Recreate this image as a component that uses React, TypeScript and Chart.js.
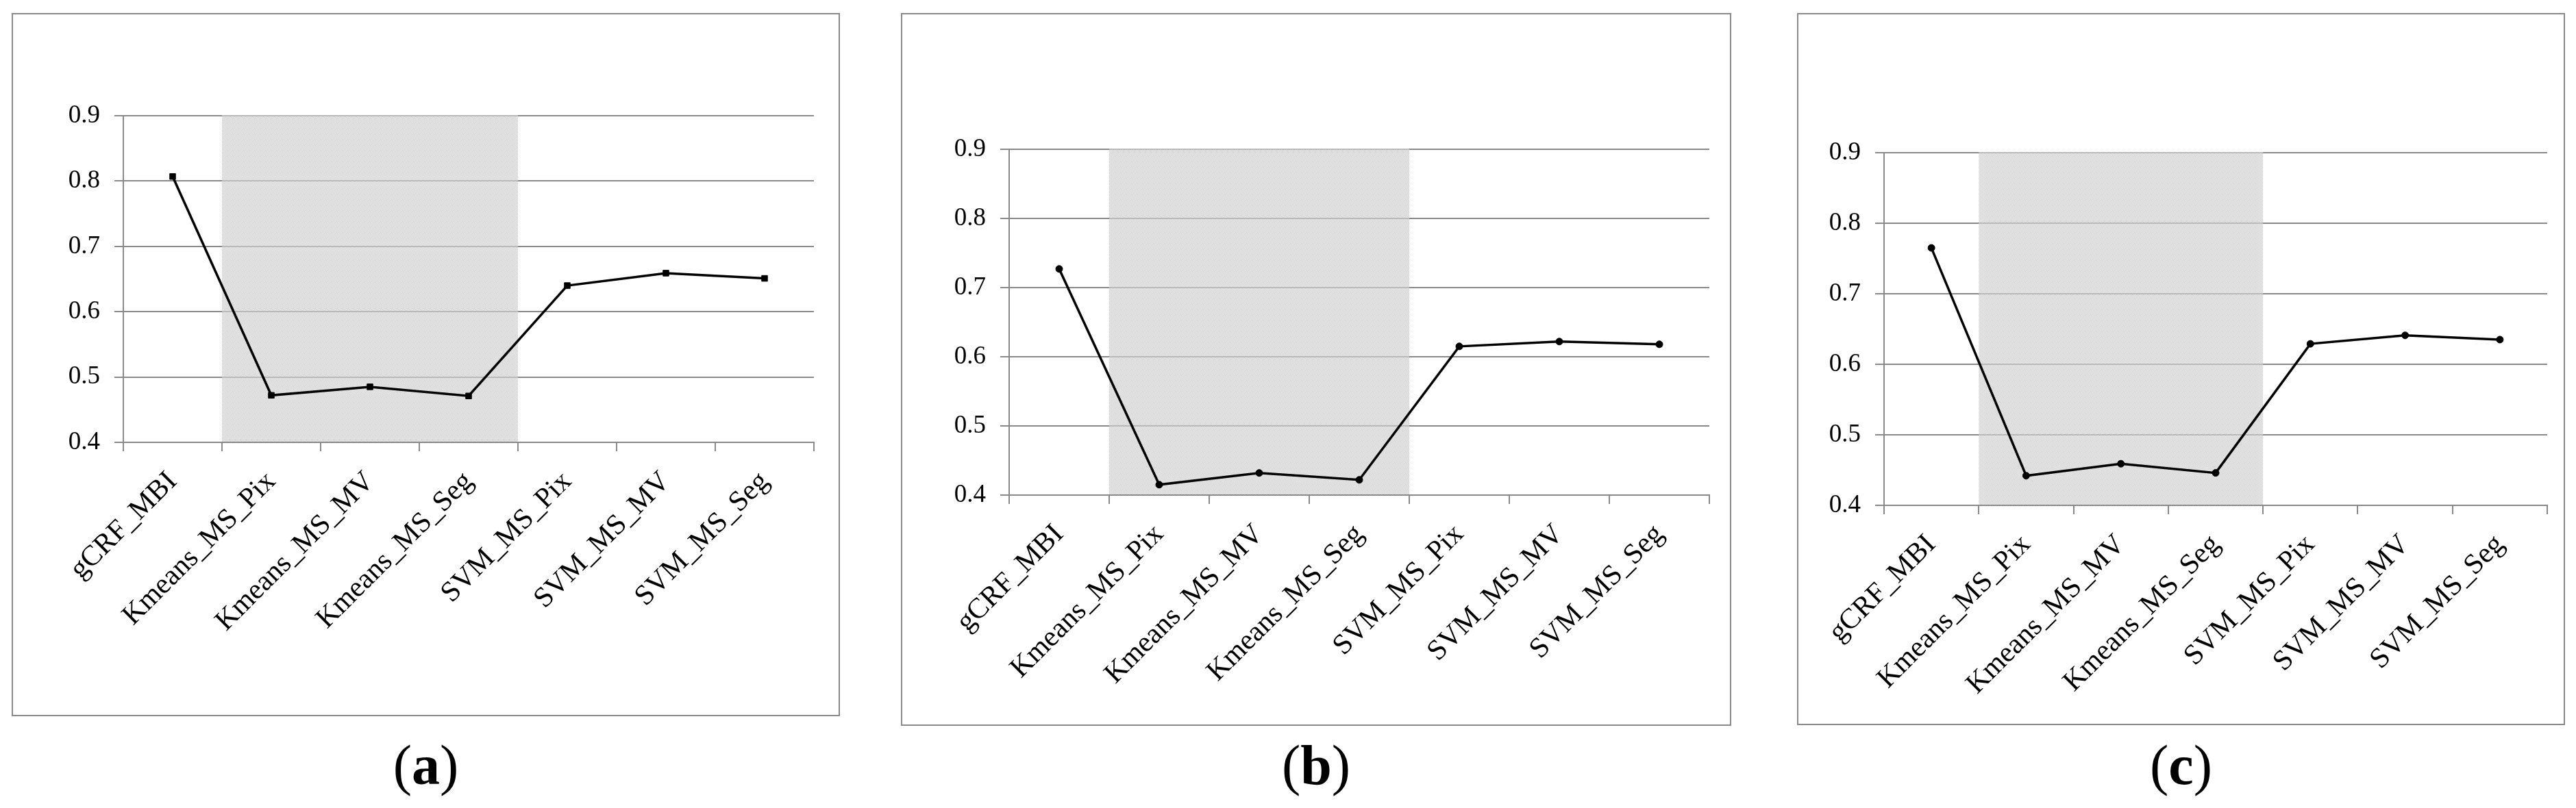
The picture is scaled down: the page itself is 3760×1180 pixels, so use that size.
import React, { useEffect, useRef } from "react";
import { Chart, registerables } from "chart.js";
Chart.register(...registerables);

// ---- data ----
const categories = [
  "gCRF_MBI",
  "Kmeans_MS_Pix",
  "Kmeans_MS_MV",
  "Kmeans_MS_Seg",
  "SVM_MS_Pix",
  "SVM_MS_MV",
  "SVM_MS_Seg",
];
const valuesA = [0.807, 0.472, 0.485, 0.471, 0.640, 0.659, 0.651];
const valuesB = [0.727, 0.415, 0.432, 0.422, 0.615, 0.622, 0.618];
const valuesC = [0.765, 0.442, 0.459, 0.446, 0.629, 0.641, 0.635];
const yTicks = [0.4, 0.5, 0.6, 0.7, 0.8, 0.9];
const shadedRange = ["Kmeans_MS_Pix", "Kmeans_MS_Seg"];
const panelLetters = ["a", "b", "c"];

// ---- layout (page pixels) ----
const GRAY = "#898989";
type Box = [number, number, number, number];
const frames: Box[] = [
  [18, 20, 1225, 1045],
  [1316, 20, 2526, 1059],
  [2624, 20, 3743, 1058],
];
const plots: Box[] = [
  [180, 169, 1188, 646],
  [1473, 218, 2495, 723],
  [2750, 223, 3718, 738],
];

function makePattern(ctx: CanvasRenderingContext2D) {
  const c = document.createElement("canvas");
  c.width = 2;
  c.height = 2;
  const g = c.getContext("2d")!;
  g.fillStyle = "#c6c6c6";
  g.fillRect(0, 0, 1, 1);
  g.fillRect(1, 1, 1, 1);
  g.fillStyle = "rgba(240,240,240,0.35)";
  g.fillRect(1, 0, 1, 1);
  g.fillRect(0, 1, 1, 1);
  return ctx.createPattern(c, "repeat")!;
}

function Panel(props: {
  frame: Box;
  plot: Box;
  values: number[];
  pointStyle: string;
  pointRadius: number;
  letter: string;
}) {
  const { frame, plot, values, pointStyle, pointRadius, letter } = props;
  const ref = useRef<HTMLCanvasElement>(null);
  const [L, T, R, B] = frame;
  const W = R - L - 2;
  const H = B - T - 2;

  useEffect(() => {
    const canvas = ref.current!;
    const ctx0 = canvas.getContext("2d")!;
    const pattern = makePattern(ctx0);
    const ox = L + 1;
    const oy = T + 1;
    const pl = plot[0] - ox;
    const pt = plot[1] - oy;
    const pr = plot[2] - ox;
    const pb = plot[3] - oy;

    const shadePlugin = {
      id: "shade",
      beforeDatasetsDraw(chart: any) {
        const { ctx, scales } = chart;
        const x = scales.x;
        const y = scales.y;
        const i0 = categories.indexOf(shadedRange[0]);
        const i1 = categories.indexOf(shadedRange[1]);
        const half = (x.getPixelForValue(1) - x.getPixelForValue(0)) / 2;
        const x0 = x.getPixelForValue(i0) - half;
        const x1 = x.getPixelForValue(i1) + half;
        const y0 = y.getPixelForValue(yTicks[yTicks.length - 1]);
        const y1 = y.getPixelForValue(yTicks[0]);
        ctx.save();
        ctx.fillStyle = pattern;
        ctx.fillRect(x0, y0 - 1, x1 - x0, y1 - y0);
        ctx.restore();
      },
    };

    const chart = new Chart(canvas, {
      type: "line",
      data: {
        labels: categories,
        datasets: [
          {
            data: values,
            borderColor: "#000",
            borderWidth: 3.5,
            backgroundColor: "#000",
            pointStyle: pointStyle as any,
            pointRadius: pointRadius,
            pointBackgroundColor: "#000",
            pointBorderColor: "#000",
            pointBorderWidth: 1,
            tension: 0,
            fill: false,
          },
        ],
      },
      options: {
        animation: false,
        responsive: false,
        maintainAspectRatio: false,
        events: [],
        layout: { padding: { top: pt, right: W - pr, left: 0, bottom: 0 } },
        plugins: {
          legend: { display: false },
          tooltip: { enabled: false },
          title: { display: false },
        },
        scales: {
          x: {
            type: "category",
            offset: true,
            afterFit: (s: any) => {
              s.height = H - pb;
            },
            grid: {
              display: true,
              drawOnChartArea: false,
              drawTicks: true,
              tickLength: 13,
              offset: true,
              color: GRAY,
              lineWidth: 2,
            },
            border: { display: true, color: GRAY, width: 2 },
            ticks: {
              autoSkip: false,
              maxRotation: 45,
              minRotation: 45,
              padding: 20,
              color: "#000",
              font: { family: "'Liberation Serif', serif", size: 42 },
            },
          },
          y: {
            type: "linear",
            min: yTicks[0],
            max: yTicks[yTicks.length - 1],
            afterFit: (s: any) => {
              s.width = pl;
            },
            afterBuildTicks: (s: any) => {
              s.ticks = yTicks.map((v) => ({ value: v }));
            },
            grid: {
              color: GRAY,
              lineWidth: 2,
              drawTicks: true,
              tickLength: 13,
            },
            border: { display: true, color: GRAY, width: 2 },
            ticks: {
              padding: 21,
              color: "#000",
              font: { family: "'Liberation Serif', serif", size: 37 },
              callback: (v: any) => Number(v).toFixed(1),
            },
          },
        },
      },
      plugins: [shadePlugin],
    });
    return () => chart.destroy();
  }, []);

  return (
    <>
      <div
        style={{
          position: "absolute",
          left: L - 1,
          top: T - 1,
          width: R - L + 2,
          height: B - T + 2,
          border: `2px solid ${GRAY}`,
          boxSizing: "border-box",
          background: "#fff",
        }}
      >
        <canvas
          ref={ref}
          width={W}
          height={H}
          style={{ display: "block", width: W, height: H }}
        />
      </div>
      <div
        style={{
          position: "absolute",
          left: L,
          width: R - L,
          top: 1077,
          height: 90,
          textAlign: "center",
          fontFamily: "'Liberation Serif', serif",
          fontSize: 82,
          lineHeight: "82px",
          color: "#000",
        }}
      >
        (<b>{letter}</b>)
      </div>
    </>
  );
}

export default function App() {
  const series = [valuesA, valuesB, valuesC];
  return (
    <div
      style={{
        position: "absolute",
        left: 0,
        top: 0,
        width: 3760,
        height: 1180,
        background: "#fff",
        overflow: "hidden",
      }}
    >
      {series.map((vals, i) => (
        <Panel
          key={i}
          frame={frames[i]}
          plot={plots[i]}
          values={vals}
          pointStyle={i === 0 ? "rect" : "circle"}
          pointRadius={i === 0 ? 6 : 5}
          letter={panelLetters[i]}
        />
      ))}
    </div>
  );
}
